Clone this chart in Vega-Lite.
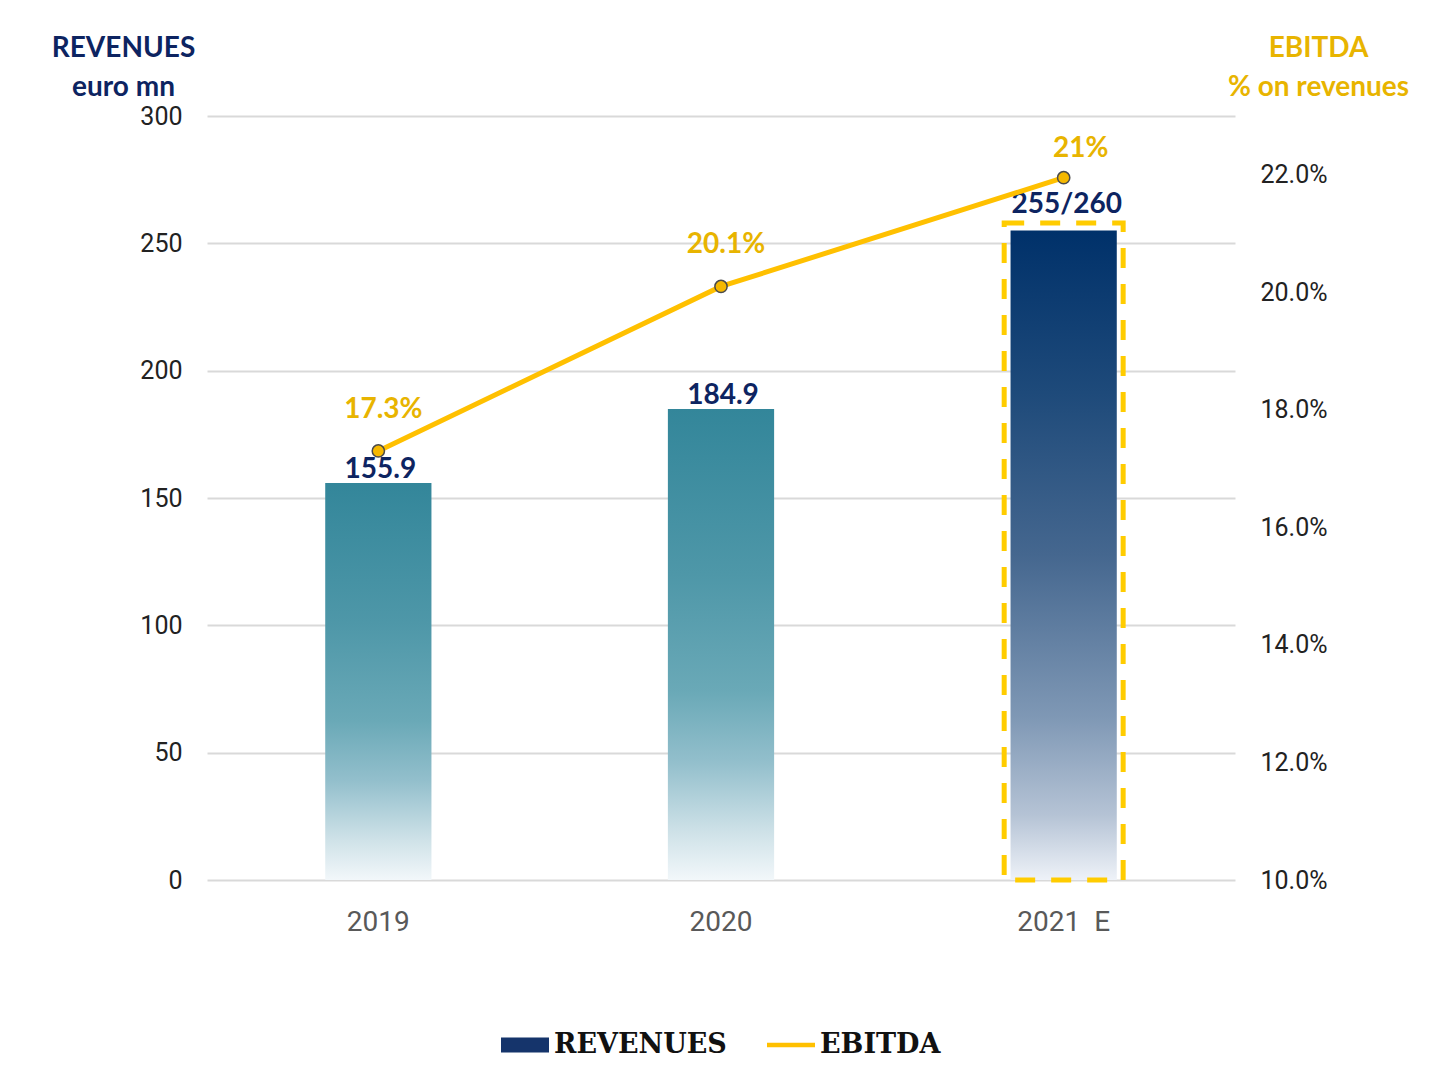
{
  "$schema": "https://vega.github.io/schema/vega-lite/v6.json",
  "width": 1028,
  "height": 764,
  "autosize": {"type": "none"},
  "padding": {"left": 207, "top": 116, "right": 211, "bottom": 190},
  "background": "white",
  "config": {
    "view": {"stroke": null},
    "axis": {"labelFont": "Roboto", "titleFont": "Lato"},
    "legend": {"layout": {"bottom": {"anchor": "middle"}}}
  },
  "data": {
    "values": [
      {"year": "2019", "revenue": 155.9, "rev_label": "155.9", "ebitda": 17.3, "ebitda_label": "17.3%", "series": "EBITDA", "estimate": false},
      {"year": "2020", "revenue": 184.9, "rev_label": "184.9", "ebitda": 20.1, "ebitda_label": "20.1%", "series": "EBITDA", "estimate": false},
      {"year": "2021\u00a0\u00a0E", "revenue": 255, "rev_label": "255/260", "ebitda": 21.95, "ebitda_label": "21%", "series": "EBITDA", "estimate": true, "box_top": 258}
    ]
  },
  "encoding": {
    "x": {
      "field": "year", "type": "nominal", "sort": null,
      "scale": {"paddingInner": 0.69, "paddingOuter": 0.345},
      "axis": {
        "title": null, "domain": false, "ticks": false, "labelAngle": 0,
        "labelFontSize": 28, "labelColor": "#595959", "labelPadding": 28
      }
    }
  },
  "layer": [
    {
      "transform": [{"filter": "!datum.estimate"}],
      "mark": {
        "type": "bar",
        "color": {
          "gradient": "linear", "x1": 0, "y1": 0, "x2": 0, "y2": 1,
          "stops": [
            {"offset": 0, "color": "#33869a"},
            {"offset": 0.35, "color": "#4e97a8"},
            {"offset": 0.6, "color": "#6aa9b7"},
            {"offset": 0.75, "color": "#93bfcc"},
            {"offset": 0.9, "color": "#cfe2e8"},
            {"offset": 1, "color": "#f2f7fa"}
          ]
        }
      },
      "encoding": {
        "y": {
          "field": "revenue", "type": "quantitative",
          "scale": {"domain": [0, 300], "nice": false},
          "axis": {
            "values": [0, 50, 100, 150, 200, 250, 300],
            "domain": false, "ticks": false,
            "labelFontSize": 25, "labelColor": "#222222", "labelPadding": 25,
            "gridColor": "#d9d9d9", "gridWidth": 2,
            "title": ["REVENUES", "euro mn"],
            "titleAngle": 0, "titleAlign": "center", "titleBaseline": "alphabetic",
            "titleX": -84, "titleY": -60, "titleLineHeight": 39,
            "titleFont": "Lato", "titleFontSize": 28, "titleFontWeight": "bold",
            "titleColor": "#0d2461"
          }
        }
      }
    },
    {
      "transform": [{"filter": "datum.estimate"}],
      "mark": {
        "type": "bar",
        "color": {
          "gradient": "linear", "x1": 0, "y1": 0, "x2": 0, "y2": 1,
          "stops": [
            {"offset": 0, "color": "#00316a"},
            {"offset": 0.25, "color": "#1e4a7a"},
            {"offset": 0.5, "color": "#45678f"},
            {"offset": 0.75, "color": "#7f98b5"},
            {"offset": 0.9, "color": "#b5c3d5"},
            {"offset": 1, "color": "#eef2f8"}
          ]
        }
      },
      "encoding": {
        "y": {"field": "revenue", "type": "quantitative", "scale": {"domain": [0, 300], "nice": false}, "axis": null}
      }
    },
    {
      "transform": [{"filter": "datum.estimate"}],
      "mark": {
        "type": "bar", "fill": null, "fillOpacity": 0, "stroke": "#FFCC00",
        "strokeWidth": 5, "strokeDash": [20, 16], "width": {"band": 1.12}
      },
      "encoding": {
        "y": {"field": "box_top", "type": "quantitative", "scale": {"domain": [0, 300], "nice": false}, "axis": null}
      }
    },
    {
      "transform": [{"filter": "!datum.estimate"}],
      "mark": {
        "type": "text", "baseline": "alphabetic", "dy": -5, "dx": 2,
        "font": "Lato", "fontSize": 28, "fontWeight": "bold", "color": "#0d2461"
      },
      "encoding": {
        "y": {"field": "revenue", "type": "quantitative", "scale": {"domain": [0, 300], "nice": false}, "axis": null},
        "text": {"field": "rev_label"}
      }
    },
    {
      "transform": [{"filter": "datum.estimate"}],
      "mark": {
        "type": "text", "baseline": "alphabetic", "dy": -10, "dx": 3,
        "font": "Lato", "fontSize": 28, "fontWeight": "bold", "color": "#0d2461"
      },
      "encoding": {
        "y": {"field": "box_top", "type": "quantitative", "scale": {"domain": [0, 300], "nice": false}, "axis": null},
        "text": {"field": "rev_label"}
      }
    },
    {
      "mark": {"type": "line", "strokeWidth": 5},
      "encoding": {
        "y": {
          "field": "ebitda", "type": "quantitative",
          "scale": {"domain": [10, 23], "nice": false, "zero": false},
          "axis": {
            "orient": "right",
            "values": [10, 12, 14, 16, 18, 20, 22],
            "labelExpr": "format(datum.value, '.1f') + '%'",
            "grid": false, "domain": false, "ticks": false,
            "labelFontSize": 25, "labelColor": "#222222", "labelPadding": 25,
            "title": ["EBITDA", "% on revenues"],
            "titleAngle": 0, "titleAlign": "center", "titleBaseline": "alphabetic",
            "titleX": 83, "titleY": -60, "titleLineHeight": 39,
            "titleFont": "Lato", "titleFontSize": 28, "titleFontWeight": "bold",
            "titleColor": "#E8B400"
          }
        },
        "color": {
          "field": "series", "type": "nominal",
          "scale": {"domain": ["REVENUES", "EBITDA"], "range": ["#15346b", "#FFC000"]},
          "legend": {
            "orient": "bottom", "direction": "horizontal", "title": null,
            "offset": 85,
            "labelFont": "DejaVu Serif", "labelFontWeight": "bold",
            "labelFontSize": 27, "labelColor": "#111111", "labelOffset": 5, "labelLimit": 400,
            "symbolSize": 2304, "columnPadding": 40,
            "encode": {
              "symbols": {
                "update": {
                  "shape": {"signal": "datum.value === 'REVENUES' ? 'M-1,-0.31L1,-0.31L1,0.31L-1,0.31Z' : 'M-1,-0.09L1,-0.09L1,0.09L-1,0.09Z'"},
                  "fill": {"signal": "datum.value === 'REVENUES' ? '#15346b' : '#FFC000'"},
                  "stroke": {"value": "transparent"},
                  "strokeWidth": {"value": 0},
                  "opacity": {"value": 1},
                  "fillOpacity": {"value": 1}
                }
              }
            }
          }
        }
      }
    },
    {
      "mark": {"type": "point", "filled": true, "size": 150, "fill": "#F5B800", "stroke": "#4a4a4a", "strokeWidth": 1.5, "opacity": 1},
      "encoding": {
        "y": {"field": "ebitda", "type": "quantitative", "scale": {"domain": [10, 23], "nice": false, "zero": false}, "axis": null}
      }
    },
    {
      "transform": [{"filter": "!datum.estimate"}],
      "mark": {
        "type": "text", "baseline": "middle", "dy": -41, "dx": 5,
        "font": "Lato", "fontSize": 28, "fontWeight": "bold", "color": "#E8B400"
      },
      "encoding": {
        "y": {"field": "ebitda", "type": "quantitative", "scale": {"domain": [10, 23], "nice": false, "zero": false}, "axis": null},
        "text": {"field": "ebitda_label"}
      }
    },
    {
      "transform": [{"filter": "datum.estimate"}],
      "mark": {
        "type": "text", "baseline": "middle", "dy": -29, "dx": 17,
        "font": "Lato", "fontSize": 28, "fontWeight": "bold", "color": "#E8B400"
      },
      "encoding": {
        "y": {"field": "ebitda", "type": "quantitative", "scale": {"domain": [10, 23], "nice": false, "zero": false}, "axis": null},
        "text": {"field": "ebitda_label"}
      }
    }
  ],
  "resolve": {"scale": {"y": "independent"}}
}
